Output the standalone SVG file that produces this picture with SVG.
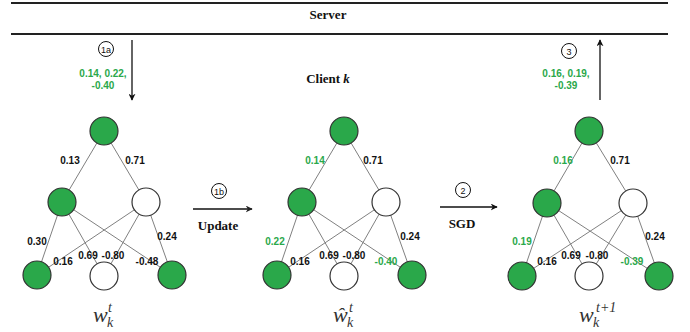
<svg xmlns="http://www.w3.org/2000/svg" width="690" height="332" viewBox="0 0 690 332">
<defs>
<marker id="ah" viewBox="0 0 10 10" refX="9" refY="5" markerWidth="7" markerHeight="7" orient="auto" markerUnits="userSpaceOnUse"><path d="M0,0 L10,5 L0,10 L3,5 Z" fill="#111"/></marker>
<marker id="ahg" viewBox="0 0 10 10" refX="9" refY="5" markerWidth="7" markerHeight="7" orient="auto" markerUnits="userSpaceOnUse"><path d="M0,0 L10,5 L0,10 L3,5 Z" fill="#222"/></marker>
<style>
.hr{stroke:#222;stroke-width:2}
.title{font-family:"Liberation Serif",serif;font-weight:bold;font-size:13px;fill:#111;text-anchor:middle}
.w{font-family:"Liberation Sans",Arial,sans-serif;font-weight:bold;font-size:10px;fill:#111;text-anchor:middle}
.g{fill:#2aa84a}
.edge{stroke:#808080;stroke-width:1}
.on{fill:#2aa84a;stroke:#333;stroke-width:1.2}
.off{fill:#fff;stroke:#333;stroke-width:1.2}
.step{fill:#fff;stroke:#111;stroke-width:1}
.stept{font-family:"Liberation Sans",Arial,sans-serif;font-size:9px;fill:#111;text-anchor:middle}
.arr{stroke:#111;stroke-width:1.3;fill:none}
.math{font-family:"Liberation Serif","DejaVu Serif",serif;font-style:italic;fill:#333}
</style>
</defs>

<g id="server">
<line class="hr" x1="11" y1="3" x2="668" y2="3"/>
<text class="title" x="328" y="19">Server</text>
<line class="hr" x1="11" y1="34" x2="668" y2="34"/>
</g>
<text class="title" x="328" y="83">Client <tspan font-style="italic">k</tspan></text>

<g id="connectors">
<line class="arr" x1="132" y1="40" x2="132" y2="100" marker-end="url(#ah)"/>
<line class="arr" x1="600" y1="100" x2="600" y2="40" marker-end="url(#ah)"/>
<line class="arr" x1="193" y1="209" x2="252" y2="209" stroke="#555" marker-end="url(#ahg)"/>
<line class="arr" x1="440" y1="207" x2="497" y2="207" marker-end="url(#ah)"/>
</g>

<g id="step1a"><circle class="step" cx="106" cy="49" r="7.5"/><text class="stept" x="106" y="52.5">1a</text></g>
<text class="w g" x="103" y="77">0.14, 0.22,</text>
<text class="w g" x="103" y="89">-0.40</text>
<g id="step3"><circle class="step" cx="569" cy="51" r="7.5"/><text class="stept" x="569" y="54.5">3</text></g>
<text class="w g" x="566" y="77">0.16, 0.19,</text>
<text class="w g" x="566" y="89">-0.39</text>
<g id="step1b"><circle class="step" cx="219" cy="191" r="7.5"/><text class="stept" x="219" y="194.5">1b</text></g>
<text class="title" x="218" y="230">Update</text>
<g id="step2"><circle class="step" cx="463" cy="190" r="7.5"/><text class="stept" x="463" y="193.5">2</text></g>
<text class="title" x="462" y="228">SGD</text>

<!-- Network 1 -->
<g id="net1-edges">
<line class="edge" x1="104" y1="131" x2="62" y2="202"/>
<line class="edge" x1="104" y1="131" x2="146" y2="202"/>
<line class="edge" x1="62" y1="202" x2="37" y2="275"/>
<line class="edge" x1="62" y1="202" x2="104" y2="276"/>
<line class="edge" x1="62" y1="202" x2="172" y2="275"/>
<line class="edge" x1="146" y1="202" x2="37" y2="275"/>
<line class="edge" x1="146" y1="202" x2="104" y2="276"/>
<line class="edge" x1="146" y1="202" x2="172" y2="275"/>
</g>
<g id="n1-top"><circle class="on" cx="104" cy="131" r="14"/></g>
<g id="n1-ml"><circle class="on" cx="62" cy="202" r="14"/></g>
<g id="n1-mr"><circle class="off" cx="146" cy="202" r="14"/></g>
<g id="n1-bl"><circle class="on" cx="37" cy="275" r="14"/></g>
<g id="n1-bm"><circle class="off" cx="104" cy="276" r="14"/></g>
<g id="n1-br"><circle class="on" cx="172" cy="275" r="14"/></g>
<g id="net1-labels">
<text class="w" x="70" y="164">0.13</text>
<text class="w" x="135" y="164">0.71</text>
<text class="w" x="37" y="245">0.30</text>
<text class="w" x="167" y="240">0.24</text>
<text class="w" x="63" y="265">0.16</text>
<text class="w" x="88" y="259">0.69</text>
<text class="w" x="113" y="259">-0.80</text>
<text class="w" x="147" y="265">-0.48</text>
</g>
<g id="label1"><text class="math" x="93" y="322" font-size="22">w</text><text class="math" x="108" y="312" font-size="14">t</text><text class="math" x="107" y="327" font-size="14">k</text></g>

<!-- Network 2 -->
<g id="net2-edges">
<line class="edge" x1="344" y1="131" x2="302" y2="202"/>
<line class="edge" x1="344" y1="131" x2="386" y2="202"/>
<line class="edge" x1="302" y1="202" x2="277" y2="275"/>
<line class="edge" x1="302" y1="202" x2="344" y2="276"/>
<line class="edge" x1="302" y1="202" x2="412" y2="275"/>
<line class="edge" x1="386" y1="202" x2="277" y2="275"/>
<line class="edge" x1="386" y1="202" x2="344" y2="276"/>
<line class="edge" x1="386" y1="202" x2="412" y2="275"/>
</g>
<g id="n2-top"><circle class="on" cx="344" cy="131" r="14"/></g>
<g id="n2-ml"><circle class="on" cx="302" cy="202" r="14"/></g>
<g id="n2-mr"><circle class="off" cx="386" cy="202" r="14"/></g>
<g id="n2-bl"><circle class="on" cx="277" cy="275" r="14"/></g>
<g id="n2-bm"><circle class="off" cx="344" cy="276" r="14"/></g>
<g id="n2-br"><circle class="on" cx="412" cy="275" r="14"/></g>
<g id="net2-labels">
<text class="w g" x="315" y="164">0.14</text>
<text class="w" x="373" y="164">0.71</text>
<text class="w g" x="275" y="245">0.22</text>
<text class="w" x="410" y="240">0.24</text>
<text class="w" x="300" y="265">0.16</text>
<text class="w" x="329" y="259">0.69</text>
<text class="w" x="354" y="259">-0.80</text>
<text class="w g" x="386" y="265">-0.40</text>
</g>
<g id="label2"><text class="math" x="333" y="322" font-size="22">ŵ</text><text class="math" x="349" y="312" font-size="14">t</text><text class="math" x="347" y="327" font-size="14">k</text></g>

<!-- Network 3 -->
<g id="net3-edges">
<line class="edge" x1="589" y1="131" x2="547" y2="203"/>
<line class="edge" x1="589" y1="131" x2="633" y2="203"/>
<line class="edge" x1="547" y1="203" x2="522" y2="276"/>
<line class="edge" x1="547" y1="203" x2="589" y2="276"/>
<line class="edge" x1="547" y1="203" x2="659" y2="276"/>
<line class="edge" x1="633" y1="203" x2="522" y2="276"/>
<line class="edge" x1="633" y1="203" x2="589" y2="276"/>
<line class="edge" x1="633" y1="203" x2="659" y2="276"/>
</g>
<g id="n3-top"><circle class="on" cx="589" cy="131" r="14"/></g>
<g id="n3-ml"><circle class="on" cx="547" cy="203" r="14"/></g>
<g id="n3-mr"><circle class="off" cx="633" cy="203" r="14"/></g>
<g id="n3-bl"><circle class="on" cx="522" cy="276" r="14"/></g>
<g id="n3-bm"><circle class="off" cx="589" cy="276" r="14"/></g>
<g id="n3-br"><circle class="on" cx="659" cy="276" r="14"/></g>
<g id="net3-labels">
<text class="w g" x="563" y="164">0.16</text>
<text class="w" x="620" y="164">0.71</text>
<text class="w g" x="522" y="245">0.19</text>
<text class="w" x="655" y="240">0.24</text>
<text class="w" x="547" y="265">0.16</text>
<text class="w" x="571" y="259">0.69</text>
<text class="w" x="597" y="259">-0.80</text>
<text class="w g" x="632" y="265">-0.39</text>
</g>
<g id="label3"><text class="math" x="579" y="322" font-size="22">w</text><text class="math" x="596" y="312" font-size="14">t+1</text><text class="math" x="593" y="327" font-size="14">k</text></g>
</svg>
